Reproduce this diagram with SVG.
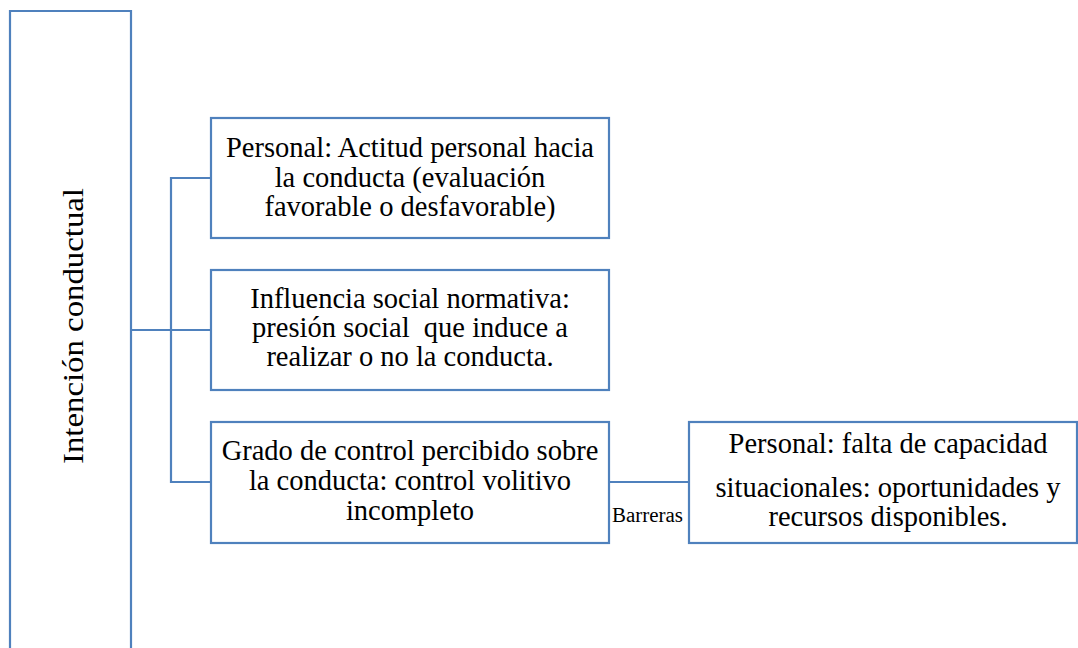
<svg xmlns="http://www.w3.org/2000/svg" width="1078" height="648" viewBox="0 0 1078 648">
<style>
.box{fill:#fff;stroke:#4f81bd;stroke-width:2.2}
.conn{fill:none;stroke:#4f81bd;stroke-width:2.2}
.t{font-family:"Liberation Serif","Times New Roman",serif;font-size:28.5px;fill:#000;text-anchor:middle}
.s{font-family:"Liberation Serif","Times New Roman",serif;font-size:20px;fill:#000}
</style>
<rect width="1078" height="648" fill="#fff"/>
<g id="intencion">
<path class="conn" d="M10,650 V11 H131 V650"/>
<text class="t" transform="translate(83,326) rotate(-90)" x="0" y="0" textLength="276" lengthAdjust="spacingAndGlyphs">Intención conductual</text>
</g>
<g id="connectors">
<path class="conn" d="M131,330 H211"/>
<path class="conn" d="M211,178 H171 V482 H211"/>
<path class="conn" d="M609,482 H689"/>
<text class="s" x="612" y="522" textLength="71" lengthAdjust="spacingAndGlyphs">Barreras</text>
</g>
<g id="actitud">
<rect class="box" x="211" y="118" width="398" height="120"/>
<text class="t" x="410" y="157">Personal: Actitud personal hacia</text>
<text class="t" x="410" y="187">la conducta (evaluación</text>
<text class="t" x="410" y="216">favorable o desfavorable)</text>
</g>
<g id="influencia">
<rect class="box" x="211" y="270" width="398" height="120"/>
<text class="t" x="410" y="308">Influencia social normativa:</text>
<text class="t" x="410" y="337">presión social&#160; que induce a</text>
<text class="t" x="410" y="366">realizar o no la conducta.</text>
</g>
<g id="control">
<rect class="box" x="211" y="422" width="398" height="121"/>
<text class="t" x="410" y="460">Grado de control percibido sobre</text>
<text class="t" x="410" y="490">la conducta: control volitivo</text>
<text class="t" x="410" y="520">incompleto</text>
</g>
<g id="barreras-box">
<rect class="box" x="689" y="422" width="388" height="121"/>
<text class="t" x="888" y="453">Personal: falta de capacidad</text>
<text class="t" x="888" y="497">situacionales: oportunidades y</text>
<text class="t" x="888" y="526">recursos disponibles.</text>
</g>
</svg>
